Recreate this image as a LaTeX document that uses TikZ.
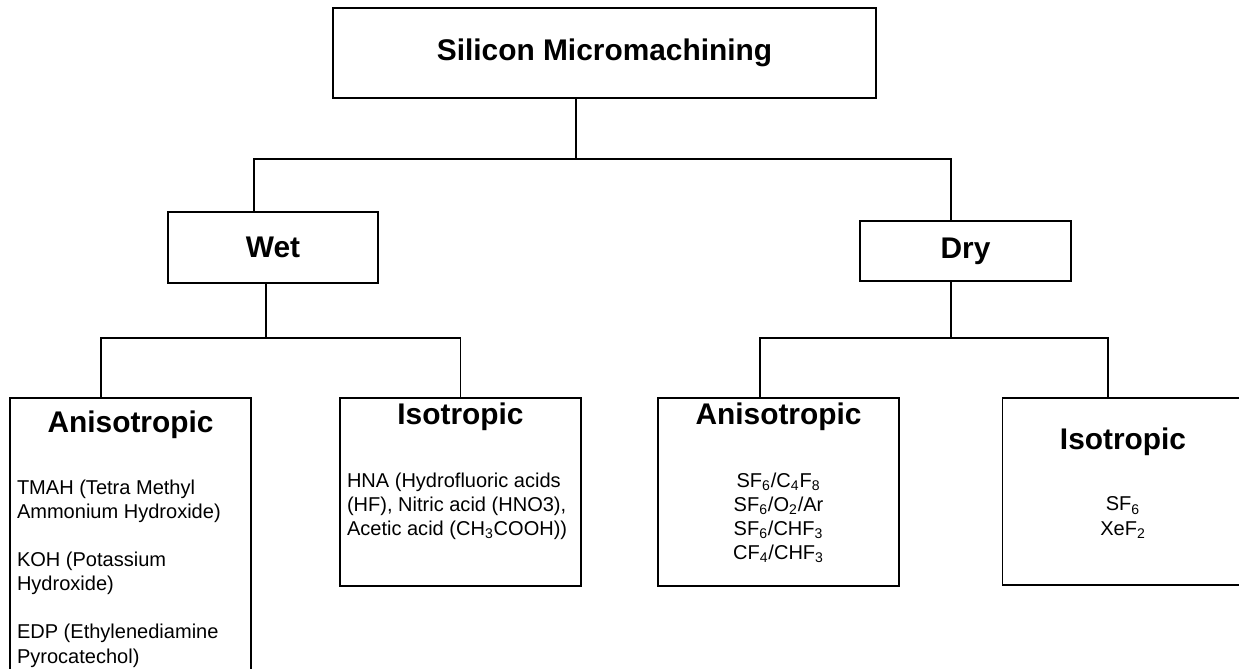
\documentclass[tikz,border=0pt]{standalone}
\usepackage{fontspec}
\setmainfont{Liberation Sans}
\usetikzlibrary{positioning}

\begin{document}
\begin{tikzpicture}[line width=1.1pt, main node/.style={rectangle, draw, inner sep=0pt, font=\fontsize{17}{20}\selectfont\bfseries}, leaf node/.style={rectangle, draw, inner sep=0pt, minimum width=4.82cm, minimum height=3.76cm, anchor=north}, head text/.style={inner sep=0pt, font=\fontsize{17}{20}\selectfont\bfseries}, body text/.style={inner sep=0pt, font=\fontsize{11.4}{13.7}\selectfont}] %1px of the figure = 0.02cm
\clip (0,0) rectangle (24.78,-13.36);
\node[main node, minimum width=10.86cm, minimum height=1.8cm](top) at (12.09,-1.06){Silicon Micromachining};
\node[main node, minimum width=4.2cm, minimum height=1.42cm](wet) at (5.46,-4.95){Wet};
\node[main node, minimum width=4.22cm, minimum height=1.2cm](dry) at (19.31,-5.02){Dry};
\node[leaf node, minimum height=6.06cm](wet aniso) at (2.61,-7.94){};
\node[leaf node](wet iso) at (9.21,-7.94){};
\node[leaf node](dry aniso) at (15.57,-7.94){};
\node[leaf node, minimum height=3.74cm](dry iso) at (22.46,-7.94){};
\node[head text, below=0.25cm of wet aniso.north](wet aniso head){Anisotropic};
\node[head text, below=0.09cm of wet iso.north](wet iso head){Isotropic};
\node[head text, below=0.09cm of dry aniso.north](dry aniso head){Anisotropic};
\node[head text, below=0.59cm of dry iso.north](dry iso head){Isotropic};
\node[body text, align=left, below right=1.64cm and 0.14cm of wet aniso.north west](wet aniso body){TMAH (Tetra Methyl\\Ammonium Hydroxide)\\[13.7pt]KOH (Potassium\\Hydroxide)\\[13.7pt]EDP (Ethylenediamine\\Pyrocatechol)};
\node[body text, align=left, below right=1.5cm and 0.14cm of wet iso.north west](wet iso body){HNA (Hydrofluoric acids\\(HF), Nitric acid (HNO3),\\Acetic acid (CH\textsubscript{3}COOH))};
\node[body text, align=center, below=1.5cm of dry aniso.north](dry aniso body){SF\textsubscript{6}/C\textsubscript{4}F\textsubscript{8}\\SF\textsubscript{6}/O\textsubscript{2}/Ar\\SF\textsubscript{6}/CHF\textsubscript{3}\\CF\textsubscript{4}/CHF\textsubscript{3}};
\node[body text, align=center, below=1.98cm of dry iso.north](dry iso body){SF\textsubscript{6}\\XeF\textsubscript{2}};
\draw ([xshift=-0.57cm]top.south) -- ++(0,-1.2) coordinate (fork top);
\draw ([xshift=-0.38cm]wet.north) |- (fork top) -| ([xshift=-0.29cm]dry.north);
\draw ([xshift=-0.14cm]wet.south) -- ++(0,-1.08) coordinate (fork wet);
\draw ([xshift=-0.59cm]wet aniso.north) |- (fork wet) -| (wet iso.north);
\draw ([xshift=-0.29cm]dry.south) -- ++(0,-1.12) coordinate (fork dry);
\draw ([xshift=-0.37cm]dry aniso.north) |- (fork dry) -| ([xshift=-0.3cm]dry iso.north);
\end{tikzpicture}
\end{document}
